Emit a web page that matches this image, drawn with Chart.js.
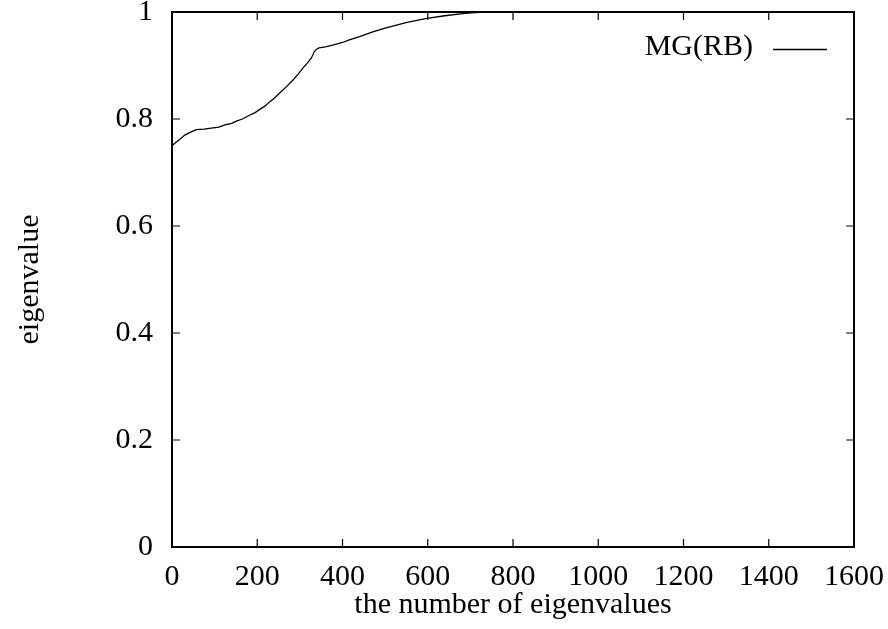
<!DOCTYPE html>
<html>
<head>
<meta charset="utf-8">
<script src="https://cdn.jsdelivr.net/npm/chart.js@4/dist/chart.umd.min.js"></script>
<style>
  html, body { margin: 0; padding: 0; background: #fff; }
  #wrap { width: 888px; height: 629px; }
</style>
</head>
<body>
<div id="wrap"><canvas id="c" width="888" height="629"></canvas></div>
<script>
// Sorted eigenvalues of the MG(RB) operator
const eigIndex = [0, 10, 20, 30, 45, 57, 75, 92, 110, 124, 140, 151, 165, 182, 195, 206,
  218, 229, 240, 252, 268, 284, 296, 307, 318, 327, 334, 340, 345, 360, 377, 400, 416,
  440, 471, 500, 549, 598, 640, 682, 710, 740, 770, 800];
const eigValue = [0.750, 0.757, 0.763, 0.770, 0.776, 0.780, 0.781, 0.783, 0.785, 0.789,
  0.792, 0.796, 0.800, 0.807, 0.812, 0.818, 0.824, 0.832, 0.839, 0.848, 0.860, 0.873,
  0.884, 0.895, 0.905, 0.914, 0.926, 0.931, 0.933, 0.935, 0.938, 0.943, 0.948, 0.954,
  0.963, 0.970, 0.980, 0.988, 0.993, 0.997, 0.999, 1.000, 1.000, 1.000];
const seriesName = 'MG(RB)';
const xTicks = [0, 200, 400, 600, 800, 1000, 1200, 1400, 1600];
const yTicks = [0, 0.2, 0.4, 0.6, 0.8, 1];
const xTitle = 'the number of eigenvalues';
const yTitle = 'eigenvalue';

const FONT = "'Liberation Serif', 'Times New Roman', serif";
const FS = 30;

// gnuplot-style frame: box border, inward ticks mirrored on all sides, titles and key
const framePlugin = {
  id: 'frame',
  afterDraw(chart) {
    const { ctx, chartArea: a, scales } = chart;
    const xs = scales.x, ys = scales.y;
    const tl = 8;
    ctx.save();
    ctx.strokeStyle = '#000';
    ctx.lineWidth = 1.2;
    ctx.beginPath();
    xTicks.forEach(v => {
      const px = xs.getPixelForValue(v);
      ctx.moveTo(px, a.bottom); ctx.lineTo(px, a.bottom - tl);
      ctx.moveTo(px, a.top); ctx.lineTo(px, a.top + tl);
    });
    yTicks.forEach(v => {
      const py = ys.getPixelForValue(v);
      ctx.moveTo(a.left, py); ctx.lineTo(a.left + tl, py);
      ctx.moveTo(a.right, py); ctx.lineTo(a.right - tl, py);
    });
    ctx.stroke();
    ctx.lineWidth = 2;
    ctx.strokeRect(a.left, a.top, a.right - a.left, a.bottom - a.top);

    ctx.fillStyle = '#000';
    ctx.font = FS + 'px ' + FONT;
    // x title
    ctx.textAlign = 'center';
    ctx.textBaseline = 'alphabetic';
    ctx.fillText(xTitle, (a.left + a.right) / 2, 613);
    // y title
    ctx.save();
    ctx.translate(38, (a.top + a.bottom) / 2);
    ctx.rotate(-Math.PI / 2);
    ctx.textAlign = 'center';
    ctx.textBaseline = 'alphabetic';
    ctx.fillText(yTitle, 0, 0);
    ctx.restore();
    // key
    const ds = chart.data.datasets[0];
    ctx.textAlign = 'right';
    ctx.textBaseline = 'alphabetic';
    ctx.fillText(ds.label, 753, 55);
    ctx.lineWidth = 1.3;
    ctx.beginPath();
    ctx.moveTo(773, 49.5); ctx.lineTo(827, 49.5);
    ctx.stroke();
    ctx.restore();
  }
};

new Chart(document.getElementById('c'), {
  type: 'scatter',
  data: {
    datasets: [{
      label: seriesName,
      data: eigIndex.map((x, i) => ({ x, y: eigValue[i] })),
      showLine: true,
      borderColor: '#000',
      borderWidth: 1.3,
      pointRadius: 0,
      tension: 0,
      clip: 2
    }]
  },
  options: {
    responsive: false,
    animation: false,
    layout: { padding: { left: 0, top: 12, right: 34, bottom: 0 } },
    plugins: { legend: { display: false }, tooltip: { enabled: false } },
    scales: {
      x: {
        type: 'linear', min: 0, max: 1600,
        afterFit(s) { s.height = 82; s.paddingLeft = 0; s.paddingRight = 0; },
        afterBuildTicks(s) { s.ticks = xTicks.map(v => ({ value: v })); },
        border: { display: false },
        grid: { display: false, drawTicks: false },
        ticks: { color: '#000', font: { family: FONT, size: FS }, padding: 12, maxRotation: 0, autoSkip: false,
                 callback: v => String(v) }
      },
      y: {
        type: 'linear', min: 0, max: 1,
        afterFit(s) { s.width = 172; s.paddingTop = 0; s.paddingBottom = 0; },
        afterBuildTicks(s) { s.ticks = yTicks.map(v => ({ value: v })); },
        border: { display: false },
        grid: { display: false, drawTicks: false },
        ticks: { color: '#000', font: { family: FONT, size: FS }, padding: 19, autoSkip: false,
                 callback: v => String(Math.round(v * 10) / 10) }
      }
    }
  },
  plugins: [framePlugin]
});
</script>
</body>
</html>
